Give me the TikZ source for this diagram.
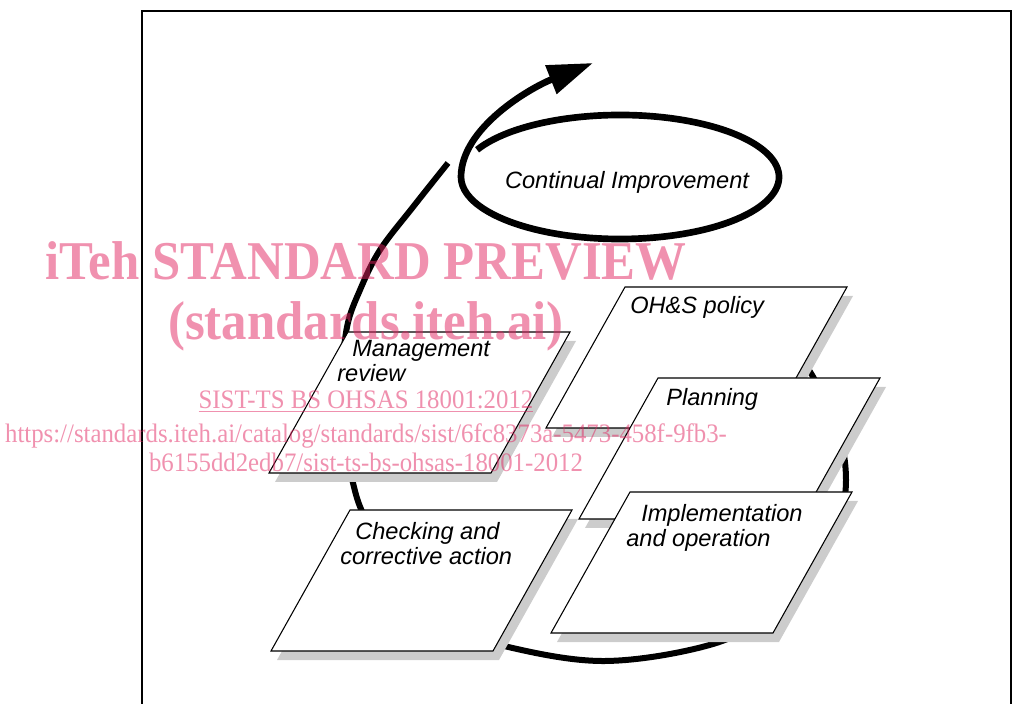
\documentclass[tikz,border=0pt]{standalone}
\usepackage{fontspec}
\usepackage{tikz}
\usetikzlibrary{arrows.meta, positioning, calc}

\newfontfamily\cardfont{Liberation Sans}
\newfontfamily\markfont{Liberation Serif}[FakeStretch=0.93]
\definecolor{shadowgray}{RGB}{204,204,204}
\definecolor{markpink}{RGB}{225,35,95}

% slanted card with drop shadow, #1 = top left corner
\newcommand{\panel}[1]{%
  \fill[cardshadow] ($(#1)+(6,-9)$) -- ++(222,0) -- ++(-79,-141) -- ++(-222,0) -- cycle;
  \filldraw[card] (#1) -- ++(222,0) -- ++(-79,-141) -- ++(-222,0) -- cycle;
}

\begin{document}
\begin{tikzpicture}[
      x=0.75pt, y=0.75pt,
      card/.style={draw=black, fill=white, line width=0.8pt},
      cardshadow/.style={fill=shadowgray},
      cardtext/.style={font=\cardfont\itshape\fontsize{17.7}{18.75}\selectfont, align=left, inner sep=0pt, anchor=north west},
      loopline/.style={line width=4.5pt},
      cycleline/.style={line width=5pt, line join=round},
      wmbig/.style={font=\markfont\bfseries\fontsize{41}{46}\selectfont, text=markpink, text opacity=0.5, inner sep=0pt, anchor=base},
      wmsmall/.style={font=\markfont\fontsize{20}{24}\selectfont, text=markpink, text opacity=0.5, inner sep=0pt, anchor=base}
    ]
    \useasboundingbox (0,0) rectangle (1013,703);

    % Frame
    \draw[line width=2.2pt] (142,-10) -- (142,692) -- (1011,692) -- (1011,-10);

    % Outer cycle
    \draw[loopline] plot[smooth, tension=0.6] coordinates {
      (448,540) (413,496) (380,453) (360,413) (347,376) (342,323) (344,273)
      (353,220) (366,183) (400,123) (450,78) (504,57) (605,42) (713,59)
      (770,91) (812,138) (838,183) (846,223) (838,273) (812,328) (785,363)};

    % Continual improvement
    \coordinate (ellc) at (620,526);
    \draw[cycleline, -{Triangle[length=34pt, width=22pt]}]
      ($(ellc)+(154:159 and 62)$) arc[start angle=154, end angle=-180, x radius=159, y radius=62]
      .. controls (461,575) and (530,615) .. (593,640);
    \node[cardtext, anchor=base] (improve) at (627,514) {Continual Improvement};

    % Cards
    \coordinate (review) at (348,371);
    \coordinate (check) at (350,193);
    \coordinate (policy) at (625,416);
    \coordinate (plan) at (658,325);
    \coordinate (implement) at (630,211);

    \panel{review}
    \panel{check}
    \panel{policy}
    \panel{plan}
    \panel{implement}

    \node[cardtext] (reviewtext) at (352,363) {Management\\\hspace*{-11.25pt}review};
    \node[cardtext] (checktext) at (355,181) {Checking and\\\hspace*{-11.25pt}corrective action};
    \node[cardtext] (policytext) at (630,407) {OH\&S policy};
    \node[cardtext] (plantext) at (666,315) {Planning};
    \node[cardtext] (implementtext) at (641,199) {Implementation\\\hspace*{-11.25pt}and operation};

    % Watermark
    \node[wmbig] (wmtitle) at (366,423) {iTeh STANDARD PREVIEW};
    \node[wmbig] (wmsite) at (366,363) {(standards.iteh.ai)};
    \node[wmsmall] (wmcode) at (366,294) {\underline{SIST-TS BS OHSAS 18001:2012}};
    \node[wmsmall] (wmurl) at (366,260) {https://standards.iteh.ai/catalog/standards/sist/6fc8373a-5473-458f-9fb3-};
    \node[wmsmall] (wmurltail) at (366,231) {b6155dd2edb7/sist-ts-bs-ohsas-18001-2012};

\end{tikzpicture}
\end{document}
